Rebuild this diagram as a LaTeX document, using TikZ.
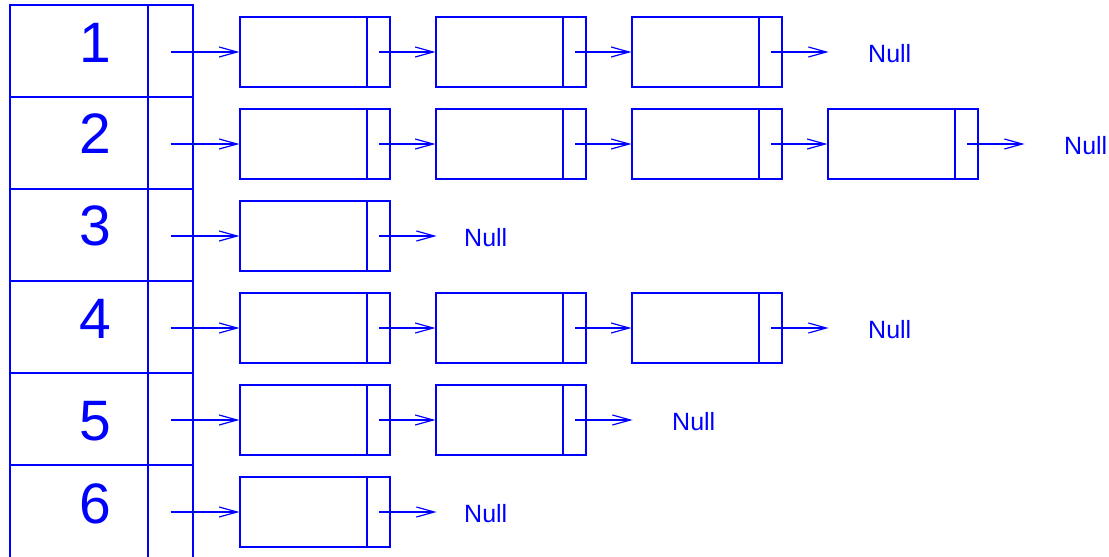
\documentclass[tikz,border=0pt]{standalone}
\usepackage{fontspec}
\newfontfamily\helv{Liberation Sans}
\usetikzlibrary{arrows.meta}

\tikzset{
  keycell/.style={draw, minimum width=138pt, minimum height=92pt, inner sep=0pt},
  ptrcell/.style={draw, minimum width=45pt, minimum height=92pt, inner sep=0pt},
  digit/.style={font=\helv\fontsize{57}{60}\selectfont, inner sep=0pt},
  listnode/.style={draw, minimum width=150pt, minimum height=70pt, inner sep=0pt,
    path picture={\draw ([xshift=-23pt]path picture bounding box.north east)
      -- ([xshift=-23pt]path picture bounding box.south east);}},
  nulltext/.style={anchor=west, font=\helv\fontsize{25}{28}\selectfont, inner sep=0pt},
  link/.style={-{Straight Barb[length=18pt,width=10pt]}}
}

\begin{document}
\begin{tikzpicture}[x=1pt,y=-1pt,color=blue,line width=1.2pt]
  \useasboundingbox (0,0) rectangle (1109,557);

  % hash table: key column and pointer column (last row runs off the page)
  \node[keycell] (k1) at (79,51) {};
  \node[keycell] (k2) at (79,143) {};
  \node[keycell] (k3) at (79,235) {};
  \node[keycell] (k4) at (79,327) {};
  \node[keycell] (k5) at (79,419) {};
  \node[keycell, minimum height=94pt] (k6) at (79,512) {};
  \node[ptrcell] (p1) at (170.5,51) {};
  \node[ptrcell] (p2) at (170.5,143) {};
  \node[ptrcell] (p3) at (170.5,235) {};
  \node[ptrcell] (p4) at (170.5,327) {};
  \node[ptrcell] (p5) at (170.5,419) {};
  \node[ptrcell, minimum height=94pt] (p6) at (170.5,512) {};
  \node[digit] (d1) at (95,42.5) {1};
  \node[digit] (d2) at (95,134) {2};
  \node[digit] (d3) at (95,226) {3};
  \node[digit] (d4) at (95,318.5) {4};
  \node[digit] (d5) at (95,421.5) {5};
  \node[digit] (d6) at (95,503.5) {6};

  % chained lists
  \node[listnode] (n11) at (315,52) {};
  \node[listnode] (n12) at (511,52) {};
  \node[listnode] (n13) at (707,52) {};
  \node[listnode] (n21) at (315,144) {};
  \node[listnode] (n22) at (511,144) {};
  \node[listnode] (n23) at (707,144) {};
  \node[listnode] (n24) at (903,144) {};
  \node[listnode] (n31) at (315,236) {};
  \node[listnode] (n41) at (315,328) {};
  \node[listnode] (n42) at (511,328) {};
  \node[listnode] (n43) at (707,328) {};
  \node[listnode] (n51) at (315,420) {};
  \node[listnode] (n52) at (511,420) {};
  \node[listnode] (n61) at (315,512) {};

  % list ends
  \coordinate (e1) at ([xshift=46]n13.east);
  \coordinate (e2) at ([xshift=46]n24.east);
  \coordinate (e3) at ([xshift=46]n31.east);
  \coordinate (e4) at ([xshift=46]n43.east);
  \coordinate (e5) at ([xshift=46]n52.east);
  \coordinate (e6) at ([xshift=46]n61.east);
  \node[nulltext] (z1) at ([xshift=39,yshift=-2]e1) {Null};
  \node[nulltext] (z2) at ([xshift=39,yshift=-2]e2) {Null};
  \node[nulltext] (z3) at ([xshift=27,yshift=-2]e3) {Null};
  \node[nulltext] (z4) at ([xshift=39,yshift=-2]e4) {Null};
  \node[nulltext] (z5) at ([xshift=39,yshift=-2]e5) {Null};
  \node[nulltext] (z6) at ([xshift=27,yshift=-2]e6) {Null};

  \begin{scope}[link]
    \draw (p1.center |- n11.west) -- (n11.west);
    \draw (p2.center |- n21.west) -- (n21.west);
    \draw (p3.center |- n31.west) -- (n31.west);
    \draw (p4.center |- n41.west) -- (n41.west);
    \draw (p5.center |- n51.west) -- (n51.west);
    \draw (p6.center |- n61.west) -- (n61.west);
    \draw ([xshift=-11.5]n11.east) -- (n12.west);
    \draw ([xshift=-11.5]n12.east) -- (n13.west);
    \draw ([xshift=-11.5]n13.east) -- (e1);
    \draw ([xshift=-11.5]n21.east) -- (n22.west);
    \draw ([xshift=-11.5]n22.east) -- (n23.west);
    \draw ([xshift=-11.5]n23.east) -- (n24.west);
    \draw ([xshift=-11.5]n24.east) -- (e2);
    \draw ([xshift=-11.5]n31.east) -- (e3);
    \draw ([xshift=-11.5]n41.east) -- (n42.west);
    \draw ([xshift=-11.5]n42.east) -- (n43.west);
    \draw ([xshift=-11.5]n43.east) -- (e4);
    \draw ([xshift=-11.5]n51.east) -- (n52.west);
    \draw ([xshift=-11.5]n52.east) -- (e5);
    \draw ([xshift=-11.5]n61.east) -- (e6);
  \end{scope}
\end{tikzpicture}
\end{document}
